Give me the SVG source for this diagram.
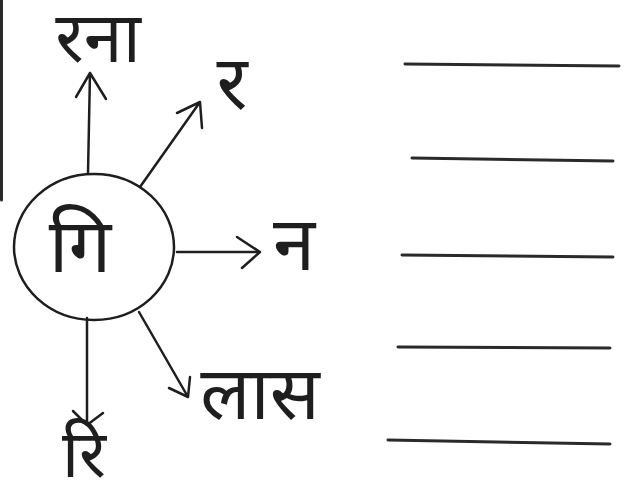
<svg xmlns="http://www.w3.org/2000/svg" width="631" height="504" viewBox="0 0 631 504">
<style>
.s{fill:none;stroke:#1e1e1e;stroke-width:2.5;stroke-linecap:round;stroke-linejoin:round}
.b{fill:none;stroke:#2a2a2a;stroke-width:3;stroke-linecap:round}
.t{font-family:"Noto Sans Devanagari","Noto Sans","Noto Sans CJK SC",sans-serif;fill:#1e1e1e;font-size:76px}
</style>
<rect width="631" height="504" fill="#ffffff"/>
<line class="b" x1="1.5" y1="0" x2="1.5" y2="200"/>
<g id="center">
<ellipse class="s" cx="94" cy="247" rx="80" ry="73"/>
<text class="t" x="80" y="272" text-anchor="middle">गि</text>
</g>
<g id="n-top"><text class="t" x="98" y="62" text-anchor="middle" style="font-size:70px">रना</text></g>
<g id="n-ur"><text class="t" x="232" y="109" text-anchor="middle">र</text></g>
<g id="n-r"><text class="t" x="294" y="270" text-anchor="middle">न</text></g>
<g id="n-dr"><text class="t" x="260" y="419" text-anchor="middle" style="font-size:74px">लास</text></g>
<g id="n-b"><text class="t" x="84" y="477" text-anchor="middle" style="font-size:66px">रि</text></g>
<g id="connectors">
<path class="s" d="M88 173 L90 73 M76 97 L90 73 L106 99"/>
<path class="s" d="M140 187 L200 102 M177 113 L200 102 L202 128"/>
<path class="s" d="M177 252 L260 252 M237 237 L260 252 L242 268"/>
<path class="s" d="M139 312 L188 397 M169 388 L188 397 L190 377"/>
<path class="s" d="M87 318 L87 425 M73 411 L87 425 L103 413"/>
</g>
<g id="blanks">
<line class="b" x1="405" y1="64" x2="619" y2="66"/>
<line class="b" x1="412" y1="158" x2="613" y2="161"/>
<line class="b" x1="402" y1="255" x2="613" y2="257"/>
<line class="b" x1="398" y1="347" x2="610" y2="348"/>
<line class="b" x1="388" y1="440" x2="610" y2="444"/>
</g>
</svg>
